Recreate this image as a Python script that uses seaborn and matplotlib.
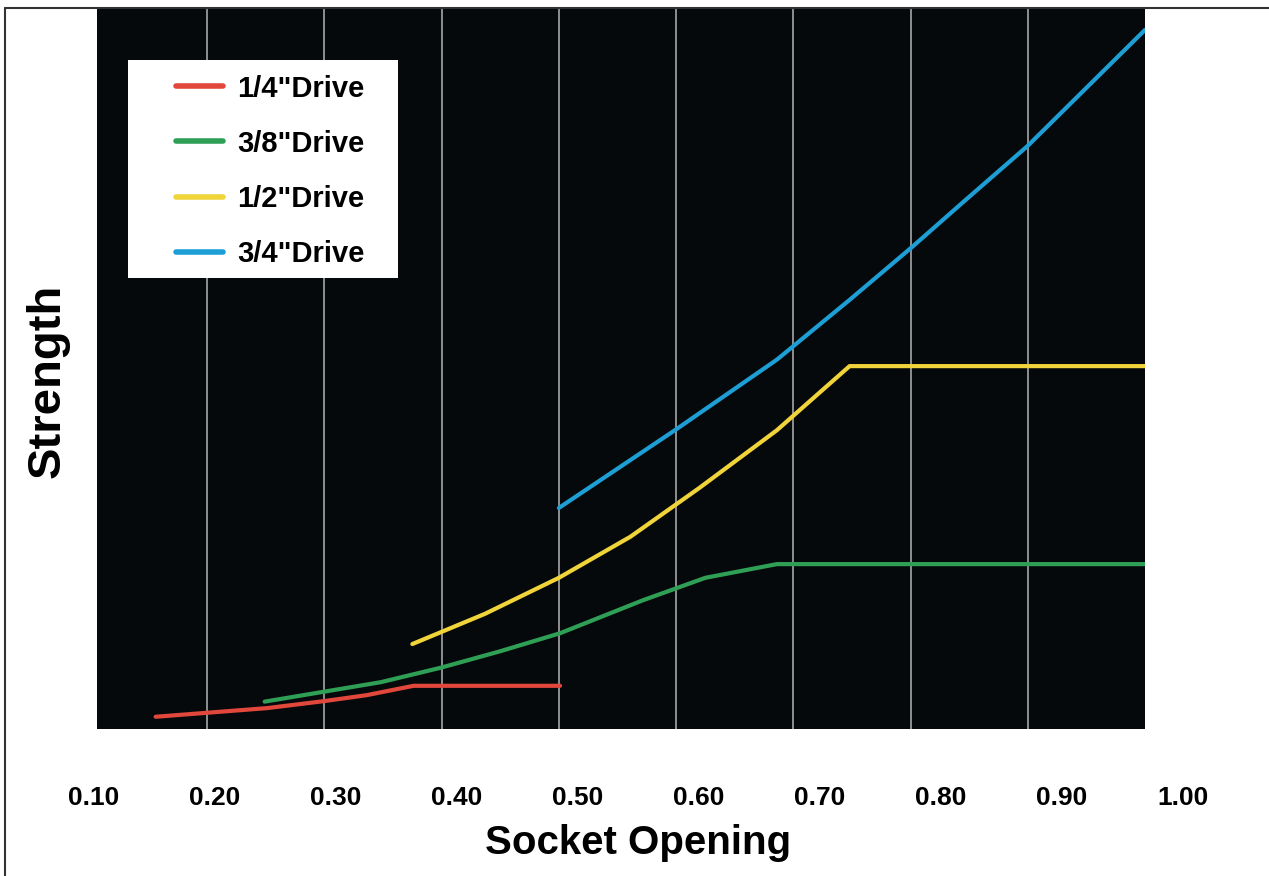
import pandas as pd
import numpy as np
import matplotlib
matplotlib.use('Agg')
import matplotlib.pyplot as plt
from matplotlib.patches import Rectangle
from matplotlib.lines import Line2D
import seaborn as sns

# Data (strength in relative units 0-100)
drives = ['1/4"Drive', '3/8"Drive', '1/2"Drive', '3/4"Drive']

x_quarter = [0.156, 0.251, 0.301, 0.336, 0.376, 0.501]
y_quarter = [1.7, 2.9, 3.9, 4.7, 6.0, 6.0]

x_three8 = [0.249, 0.348, 0.399, 0.450, 0.501, 0.572, 0.625, 0.686, 1.0]
y_three8 = [3.8, 6.5, 8.5, 10.8, 13.3, 17.9, 21.0, 22.9, 22.9]

x_half = [0.375, 0.437, 0.500, 0.561, 0.620, 0.686, 0.748, 1.0]
y_half = [11.8, 16.0, 21.0, 26.7, 33.5, 41.5, 50.4, 50.4]

x_three4 = [0.500, 0.599, 0.686, 0.748, 0.801, 0.845, 0.900, 1.0]
y_three4 = [30.7, 41.5, 51.3, 59.6, 66.9, 73.2, 81.0, 97.1]

grid_x = [0.2, 0.3, 0.4, 0.5, 0.6, 0.7, 0.8, 0.9]
tick_vals = [0.1, 0.2, 0.3, 0.4, 0.5, 0.6, 0.7, 0.8, 0.9, 1.0]
tick_labels = ['0.10', '0.20', '0.30', '0.40', '0.50', '0.60', '0.70', '0.80', '0.90', '1.00']

colors = {'1/4"Drive': '#e2473b', '3/8"Drive': '#2f9f55',
          '1/2"Drive': '#f0d43a', '3/4"Drive': '#1d9fd6'}

df = pd.concat([
    pd.DataFrame({'x': x_quarter, 'y': y_quarter, 'drive': drives[0]}),
    pd.DataFrame({'x': x_three8, 'y': y_three8, 'drive': drives[1]}),
    pd.DataFrame({'x': x_half, 'y': y_half, 'drive': drives[2]}),
    pd.DataFrame({'x': x_three4, 'y': y_three4, 'drive': drives[3]}),
], ignore_index=True)

sns.set_style('white')
plt.rcParams['font.family'] = ['Liberation Sans', 'DejaVu Sans']
plt.rcParams['font.weight'] = 'bold'
plt.rcParams['text.color'] = 'black'
plt.rcParams['axes.labelcolor'] = 'black'
plt.rcParams['xtick.color'] = 'black'

W, H = 1269, 876
fig = plt.figure(figsize=(W / 100, H / 100), dpi=100)

# plot area in pixels: left 97, right 1145, top 9, bottom 729
ax = fig.add_axes([97 / W, (H - 729) / H, (1145 - 97) / W, (729 - 9) / H])
ax.set_facecolor('#05090b')
for s in ax.spines.values():
    s.set_visible(False)

sns.lineplot(data=df, x='x', y='y', hue='drive', palette=colors, hue_order=drives,
             linewidth=3, legend=False, ax=ax, zorder=3)

ax.set_xlim(0.106, 1.0)
ax.set_ylim(0, 100)
ax.set_xticks(grid_x)
ax.set_xticklabels([])
ax.set_yticks([])
ax.tick_params(axis='x', length=0)
ax.grid(axis='x', color='#9a9a9a', linewidth=1.3)
ax.set_xlabel('')
ax.set_ylabel('Strength', fontsize=34, fontweight='bold', color='black')
ax.yaxis.set_label_coords(-0.026, 0.483)

# legend box
ax.add_patch(Rectangle((0.0296, 0.626), 0.2576, 0.3028, transform=ax.transAxes,
                       facecolor='white', edgecolor='none', zorder=5))
handles = [Line2D([0], [0], color=colors[d], linewidth=4) for d in drives]
leg = ax.legend(handles, drives, loc='upper left', bbox_to_anchor=(0.0754, 0.909),
                frameon=False, borderpad=0, borderaxespad=0,
                prop={'size': 21, 'weight': 'bold'},
                handlelength=1.6, handletextpad=0.5, labelspacing=0.93)
leg.set_zorder(6)
for t in leg.get_texts():
    t.set_color('black')

# tick labels sit on their own scale below the plot
ax2 = fig.add_axes([94 / W, (H - 786) / H, (1183 - 94) / W, 0.0001])
ax2.set_xlim(0.1, 1.0)
ax2.set_xticks(tick_vals)
ax2.set_xticklabels(tick_labels, fontsize=19, fontweight='bold', color='black')
ax2.set_yticks([])
ax2.tick_params(axis='x', length=0, pad=0)
ax2.patch.set_visible(False)
for s in ax2.spines.values():
    s.set_visible(False)
ax2.set_xlabel('Socket Opening', fontsize=29, fontweight='bold', labelpad=10, color='black')

# page frame, top and left edges
fig.add_artist(Line2D([5 / W, 1], [1 - 8 / H, 1 - 8 / H], color='#333333', linewidth=1.5))
fig.add_artist(Line2D([5 / W, 5 / W], [0, 1 - 8 / H], color='#333333', linewidth=1.5))

fig.savefig('out.png', dpi=100)
